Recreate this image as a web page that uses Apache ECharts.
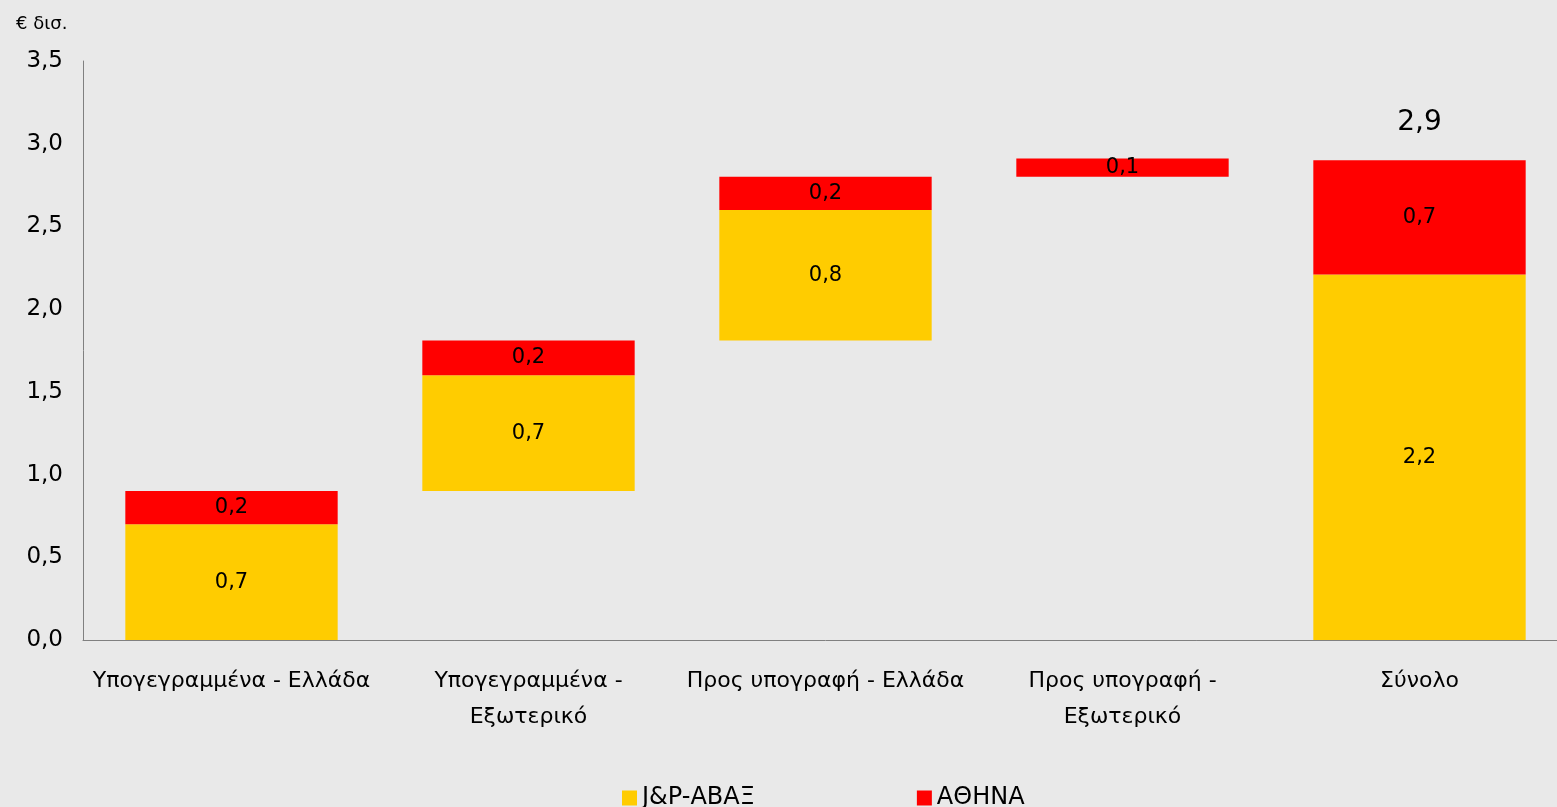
<!DOCTYPE html>
<html><head><meta charset="utf-8">
<script src="https://cdn.jsdelivr.net/npm/echarts@6/dist/echarts.min.js"></script>
<style>html,body{margin:0;padding:0;background:#e9e9e9;overflow:hidden;width:1557px;height:807px;}#c{width:1568px;height:807px;}</style>
</head><body><div id="c"></div>
<script>
const categories = ['Υπογεγραμμένα - Ελλάδα', 'Υπογεγραμμένα -\nΕξωτερικό', 'Προς υπογραφή - Ελλάδα', 'Προς υπογραφή -\nΕξωτερικό', 'Σύνολο'];
const baseValues = [0, 0.90, 1.81, 2.80, 0];
const abaxValues = [0.70, 0.70, 0.79, 0, 2.21];
const athinaValues = [0.20, 0.21, 0.20, 0.11, 0.69];
const totalValue = 2.9;
const yTicks = [0, 0.5, 1.0, 1.5, 2.0, 2.5, 3.0, 3.5];

const fmt = v => v.toFixed(1).replace('.', ',');
const FONT = "'DejaVu Sans', sans-serif";

const chart = echarts.init(document.getElementById('c'));
chart.setOption({
  backgroundColor: '#e9e9e9',
  animation: false,
  textStyle: { fontFamily: FONT, color: '#000' },
  grid: { left: 83, right: 0, top: 61, bottom: 167 },
  legend: {
    data: ['J&P-ΑΒΑΞ', 'ΑΘΗΝΑ'],
    left: 617, top: 781,
    itemWidth: 15, itemHeight: 15, itemGap: 162,
    icon: 'rect',
    textStyle: { fontSize: 24, fontFamily: FONT, color: '#000', padding: [0, 0, 0, 0] }
  },
  xAxis: {
    type: 'category', data: categories,
    axisLine: { lineStyle: { color: '#808080', width: 1 } },
    axisTick: { show: false },
    axisLabel: { fontSize: 22, color: '#000', margin: 23, lineHeight: 36, interval: 0, fontFamily: FONT }
  },
  yAxis: {
    type: 'value', min: 0, max: 3.5, interval: 0.5,
    name: '€ δισ.', nameLocation: 'end', nameGap: 28,
    nameTextStyle: { fontSize: 18, color: '#000', align: 'left', padding: [0, 0, 0, -67], fontFamily: FONT },
    axisLine: { show: true, lineStyle: { color: '#808080', width: 1 } },
    axisTick: { show: false },
    splitLine: { show: false },
    axisLabel: { fontSize: 23, color: '#000', margin: 20, fontFamily: FONT,
      formatter: v => yTicks.includes(v) ? fmt(v) : '' }
  },
  series: [
    { name: 'base', type: 'bar', stack: 't', data: baseValues, barWidth: '71.5%',
      itemStyle: { color: 'rgba(0,0,0,0)' }, silent: true },
    { name: 'J&P-ΑΒΑΞ', type: 'bar', stack: 't', data: abaxValues,
      itemStyle: { color: '#ffcc00' },
      label: { show: true, position: 'inside', fontSize: 21, color: '#000', fontFamily: FONT,
        formatter: p => p.value > 0 ? fmt(p.value) : '' } },
    { name: 'ΑΘΗΝΑ', type: 'bar', stack: 't', data: athinaValues,
      itemStyle: { color: '#ff0000' },
      label: { show: true, position: 'inside', fontSize: 21, color: '#000', fontFamily: FONT,
        formatter: p => fmt(p.value) } },
    { name: 'total', type: 'bar', stack: 't', data: [0, 0, 0, 0, 0.0001],
      itemStyle: { color: 'rgba(0,0,0,0)' },
      label: { show: true, position: 'top', distance: 24, fontSize: 28, color: '#000', fontFamily: FONT,
        formatter: p => p.dataIndex === 4 ? fmt(totalValue) : '' } }
  ]
});
</script></body></html>
